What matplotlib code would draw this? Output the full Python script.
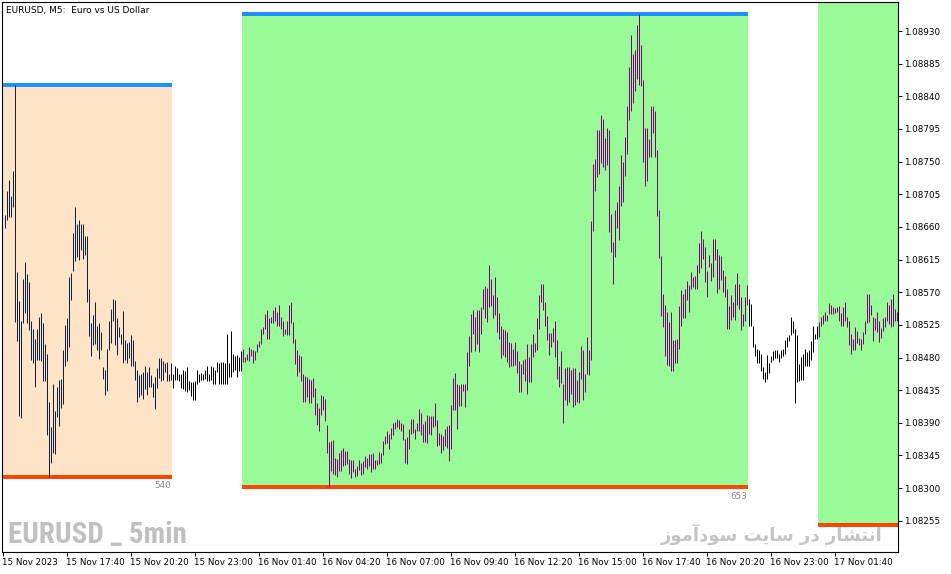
import matplotlib
matplotlib.use("Agg")
import matplotlib.pyplot as plt
from matplotlib import font_manager
from matplotlib.patches import Rectangle
import pandas as pd

# EURUSD M5 bars, 15 Nov 2023 15:05 onwards
chart_title = "EURUSD, M5:  Euro vs US Dollar"
first_bar = "2023-11-15 15:05"

high = [
    1.08677, 1.08710, 1.08724, 1.08702, 1.08737, 1.08855, 1.08598, 1.08558, 1.08531, 1.08588,
    1.08611, 1.08595, 1.08584, 1.08531, 1.08520, 1.08506, 1.08519, 1.08536, 1.08541, 1.08527,
    1.08498, 1.08485, 1.08419, 1.08384, 1.08443, 1.08407, 1.08440, 1.08449, 1.08450, 1.08491,
    1.08525, 1.08535, 1.08591, 1.08597, 1.08651, 1.08687, 1.08664, 1.08670, 1.08664, 1.08664,
    1.08648, 1.08648, 1.08574, 1.08527, 1.08538, 1.08556, 1.08524, 1.08527, 1.08515, 1.08467,
    1.08463, 1.08492, 1.08531, 1.08547, 1.08561, 1.08559, 1.08534, 1.08522, 1.08512, 1.08544,
    1.08504, 1.08500, 1.08501, 1.08511, 1.08504, 1.08475, 1.08463, 1.08456, 1.08457, 1.08460,
    1.08468, 1.08460, 1.08467, 1.08456, 1.08445, 1.08453, 1.08465, 1.08480, 1.08479, 1.08475,
    1.08472, 1.08474, 1.08458, 1.08472,
    1.08458, 1.08469, 1.08465, 1.08457, 1.08457, 1.08463, 1.08462, 1.08467, 1.08448, 1.08446,
    1.08446, 1.08448, 1.08463, 1.08457, 1.08459, 1.08457, 1.08463, 1.08468, 1.08458, 1.08468,
    1.08467, 1.08463, 1.08474, 1.08473, 1.08474, 1.08474, 1.08472, 1.08512, 1.08472, 1.08516,
    1.08485, 1.08482, 1.08483, 1.08481, 1.08489,
    1.08492, 1.08481, 1.08485, 1.08494, 1.08492, 1.08490, 1.08489, 1.08499, 1.08503, 1.08520,
    1.08522, 1.08540, 1.08545, 1.08534, 1.08536, 1.08546, 1.08550, 1.08543, 1.08553, 1.08536,
    1.08531, 1.08520, 1.08531, 1.08552, 1.08556, 1.08529, 1.08505, 1.08490, 1.08483, 1.08482,
    1.08458, 1.08454, 1.08453, 1.08450, 1.08449, 1.08452, 1.08438, 1.08418, 1.08410, 1.08429,
    1.08427, 1.08423, 1.08387, 1.08363, 1.08365, 1.08367, 1.08342, 1.08340, 1.08349, 1.08353,
    1.08356, 1.08351, 1.08351, 1.08340, 1.08339, 1.08339, 1.08327, 1.08331, 1.08339, 1.08335,
    1.08338, 1.08344, 1.08342, 1.08347, 1.08347, 1.08348, 1.08339, 1.08339, 1.08350, 1.08349,
    1.08365, 1.08372, 1.08379, 1.08374, 1.08383, 1.08390, 1.08391, 1.08395, 1.08394, 1.08390,
    1.08389, 1.08368, 1.08370, 1.08381, 1.08395, 1.08395, 1.08381, 1.08390, 1.08409, 1.08404,
    1.08389, 1.08392, 1.08401, 1.08399, 1.08399, 1.08399, 1.08417, 1.08394, 1.08376, 1.08375,
    1.08372, 1.08382, 1.08386, 1.08387, 1.08415, 1.08452, 1.08459, 1.08443, 1.08442, 1.08443,
    1.08443, 1.08444, 1.08487, 1.08509, 1.08540, 1.08545, 1.08536, 1.08545, 1.08546, 1.08550,
    1.08574, 1.08578, 1.08576, 1.08607, 1.08588, 1.08566, 1.08591, 1.08564, 1.08542, 1.08523,
    1.08520, 1.08518, 1.08515, 1.08502, 1.08500, 1.08492, 1.08502, 1.08489, 1.08475, 1.08471,
    1.08476, 1.08478, 1.08498, 1.08481, 1.08499, 1.08512, 1.08500, 1.08534, 1.08566, 1.08582,
    1.08582, 1.08557, 1.08537, 1.08514, 1.08514, 1.08521, 1.08531, 1.08504, 1.08469, 1.08489,
    1.08444, 1.08465, 1.08467, 1.08467, 1.08463, 1.08465, 1.08466, 1.08449, 1.08460, 1.08496,
    1.08491, 1.08458, 1.08508, 1.08490, 1.08668, 1.08747, 1.08754, 1.08794, 1.08794, 1.08814,
    1.08809, 1.08782, 1.08797, 1.08793, 1.08678, 1.08639, 1.08683, 1.08694, 1.08716, 1.08759,
    1.08750, 1.08784, 1.08827, 1.08880, 1.08924, 1.08899, 1.08904, 1.08938, 1.08954, 1.08911,
    1.08863, 1.08797, 1.08797, 1.08781, 1.08826, 1.08827, 1.08820, 1.08766, 1.08684, 1.08620,
    1.08568, 1.08553, 1.08543, 1.08529, 1.08543, 1.08504, 1.08504, 1.08505, 1.08551, 1.08573,
    1.08568, 1.08574, 1.08586, 1.08580, 1.08598, 1.08591, 1.08592, 1.08607, 1.08638, 1.08654,
    1.08644, 1.08633, 1.08599, 1.08622, 1.08610, 1.08644, 1.08643, 1.08630, 1.08622, 1.08620,
    1.08601, 1.08593, 1.08575, 1.08551, 1.08566, 1.08557, 1.08581, 1.08597, 1.08581, 1.08564,
    1.08540, 1.08564, 1.08580,
    1.08560, 1.08554, 1.08524, 1.08498, 1.08492, 1.08491, 1.08485, 1.08467, 1.08460, 1.08483,
    1.08472, 1.08482, 1.08489, 1.08490, 1.08491, 1.08485, 1.08490, 1.08492, 1.08504, 1.08508,
    1.08511, 1.08536, 1.08531, 1.08520, 1.08511, 1.08471, 1.08481, 1.08485, 1.08492, 1.08488,
    1.08490, 1.08503, 1.08524, 1.08512, 1.08523,
    1.08529, 1.08536, 1.08539, 1.08543, 1.08538, 1.08555, 1.08552, 1.08550, 1.08548, 1.08550,
    1.08551, 1.08541, 1.08550, 1.08557, 1.08536, 1.08530, 1.08512, 1.08506, 1.08522, 1.08517,
    1.08507, 1.08506, 1.08515, 1.08531, 1.08568, 1.08568, 1.08552, 1.08536, 1.08534, 1.08543,
    1.08531, 1.08521, 1.08534, 1.08536, 1.08557, 1.08553, 1.08561, 1.08567, 1.08547, 1.08543,
]

low = [
    1.08658, 1.08669, 1.08674, 1.08674, 1.08687, 1.08529, 1.08503, 1.08400, 1.08397, 1.08528,
    1.08541, 1.08527, 1.08518, 1.08476, 1.08473, 1.08440, 1.08477, 1.08476, 1.08475, 1.08448,
    1.08448, 1.08373, 1.08315, 1.08335, 1.08348, 1.08347, 1.08398, 1.08386, 1.08411, 1.08416,
    1.08468, 1.08475, 1.08495, 1.08559, 1.08599, 1.08613, 1.08619, 1.08614, 1.08628, 1.08616,
    1.08621, 1.08557, 1.08510, 1.08482, 1.08497, 1.08498, 1.08490, 1.08478, 1.08490, 1.08451,
    1.08429, 1.08434, 1.08490, 1.08500, 1.08531, 1.08497, 1.08484, 1.08508, 1.08499, 1.08473,
    1.08477, 1.08472, 1.08479, 1.08469, 1.08468, 1.08449, 1.08419, 1.08426, 1.08429, 1.08423,
    1.08436, 1.08429, 1.08440, 1.08439, 1.08425, 1.08409, 1.08438, 1.08452, 1.08448, 1.08449,
    1.08460, 1.08447, 1.08448, 1.08449,
    1.08438, 1.08449, 1.08449, 1.08448, 1.08438, 1.08436, 1.08434, 1.08432, 1.08435, 1.08427,
    1.08422, 1.08422, 1.08444, 1.08446, 1.08449, 1.08449, 1.08450, 1.08448, 1.08448, 1.08449,
    1.08444, 1.08444, 1.08460, 1.08444, 1.08443, 1.08444, 1.08443, 1.08444, 1.08453, 1.08453,
    1.08460, 1.08463, 1.08453, 1.08461, 1.08461,
    1.08474, 1.08474, 1.08476, 1.08475, 1.08482, 1.08473, 1.08476, 1.08488, 1.08495, 1.08499,
    1.08512, 1.08519, 1.08505, 1.08506, 1.08528, 1.08528, 1.08530, 1.08524, 1.08523, 1.08519,
    1.08509, 1.08513, 1.08511, 1.08511, 1.08527, 1.08500, 1.08471, 1.08454, 1.08460, 1.08448,
    1.08419, 1.08419, 1.08426, 1.08417, 1.08417, 1.08426, 1.08401, 1.08387, 1.08379, 1.08401,
    1.08408, 1.08393, 1.08349, 1.08301, 1.08323, 1.08319, 1.08318, 1.08316, 1.08324, 1.08323,
    1.08330, 1.08332, 1.08333, 1.08319, 1.08314, 1.08322, 1.08315, 1.08317, 1.08325, 1.08318,
    1.08320, 1.08329, 1.08327, 1.08331, 1.08322, 1.08326, 1.08326, 1.08332, 1.08333, 1.08335,
    1.08346, 1.08361, 1.08362, 1.08354, 1.08368, 1.08373, 1.08381, 1.08384, 1.08382, 1.08379,
    1.08367, 1.08335, 1.08333, 1.08354, 1.08374, 1.08376, 1.08368, 1.08379, 1.08379, 1.08373,
    1.08364, 1.08363, 1.08362, 1.08374, 1.08373, 1.08384, 1.08386, 1.08358, 1.08359, 1.08349,
    1.08352, 1.08358, 1.08355, 1.08337, 1.08354, 1.08408, 1.08408, 1.08381, 1.08413, 1.08413,
    1.08434, 1.08412, 1.08435, 1.08469, 1.08488, 1.08512, 1.08489, 1.08498, 1.08488, 1.08512,
    1.08547, 1.08535, 1.08529, 1.08550, 1.08551, 1.08534, 1.08538, 1.08515, 1.08506, 1.08479,
    1.08483, 1.08481, 1.08474, 1.08467, 1.08469, 1.08469, 1.08470, 1.08459, 1.08432, 1.08433,
    1.08458, 1.08448, 1.08430, 1.08446, 1.08446, 1.08481, 1.08488, 1.08490, 1.08520, 1.08557,
    1.08546, 1.08524, 1.08504, 1.08484, 1.08495, 1.08502, 1.08481, 1.08450, 1.08440, 1.08445,
    1.08390, 1.08421, 1.08414, 1.08419, 1.08430, 1.08412, 1.08414, 1.08419, 1.08417, 1.08451,
    1.08421, 1.08433, 1.08457, 1.08456, 1.08476, 1.08655, 1.08710, 1.08729, 1.08733, 1.08748,
    1.08743, 1.08739, 1.08746, 1.08653, 1.08626, 1.08581, 1.08619, 1.08659, 1.08642, 1.08689,
    1.08694, 1.08730, 1.08761, 1.08808, 1.08820, 1.08831, 1.08848, 1.08864, 1.08855, 1.08854,
    1.08749, 1.08716, 1.08723, 1.08757, 1.08756, 1.08789, 1.08757, 1.08675, 1.08617, 1.08537,
    1.08522, 1.08482, 1.08470, 1.08469, 1.08462, 1.08462, 1.08473, 1.08473, 1.08492, 1.08524,
    1.08534, 1.08535, 1.08559, 1.08543, 1.08574, 1.08577, 1.08574, 1.08575, 1.08596, 1.08603,
    1.08616, 1.08584, 1.08564, 1.08605, 1.08586, 1.08591, 1.08614, 1.08569, 1.08575, 1.08587,
    1.08570, 1.08564, 1.08520, 1.08519, 1.08532, 1.08536, 1.08532, 1.08553, 1.08547, 1.08518,
    1.08524, 1.08530, 1.08553,
    1.08524, 1.08524, 1.08495, 1.08482, 1.08473, 1.08473, 1.08462, 1.08451, 1.08446, 1.08451,
    1.08459, 1.08474, 1.08476, 1.08479, 1.08480, 1.08474, 1.08480, 1.08482, 1.08485, 1.08495,
    1.08503, 1.08511, 1.08514, 1.08417, 1.08446, 1.08447, 1.08449, 1.08449, 1.08468, 1.08468,
    1.08469, 1.08476, 1.08488, 1.08505, 1.08506,
    1.08508, 1.08523, 1.08526, 1.08530, 1.08530, 1.08540, 1.08540, 1.08540, 1.08542, 1.08543,
    1.08531, 1.08524, 1.08524, 1.08530, 1.08522, 1.08497, 1.08485, 1.08490, 1.08491, 1.08500,
    1.08497, 1.08490, 1.08498, 1.08512, 1.08528, 1.08529, 1.08538, 1.08503, 1.08518, 1.08515,
    1.08502, 1.08507, 1.08517, 1.08522, 1.08530, 1.08526, 1.08522, 1.08523, 1.08531, 1.08530,
]

# session boxes
sess_start = ["2023-11-15 15:00", "2023-11-16 01:00", "2023-11-17 01:00"]
sess_end = ["2023-11-15 22:00", "2023-11-16 22:00", "2023-11-17 22:00"]
box_top = [1.08855, 1.08954, 1.09050]
box_bottom = [1.08315, 1.08301, 1.08249]
box_fill = ["#FDE4C6", "#98FB98", "#98FB98"]
box_bars = ["#0D2246", "#800080", "#800080"]

price_ticks = [1.08255, 1.08300, 1.08345, 1.08390, 1.08435, 1.08480, 1.08525, 1.08570,
               1.08615, 1.08660, 1.08705, 1.08750, 1.08795, 1.08840, 1.08885, 1.08930]
time_labels = ["15 Nov 2023", "15 Nov 17:40", "15 Nov 20:20", "15 Nov 23:00",
               "16 Nov 01:40", "16 Nov 04:20", "16 Nov 07:00", "16 Nov 09:40",
               "16 Nov 12:20", "16 Nov 15:00", "16 Nov 17:40", "16 Nov 20:20",
               "16 Nov 23:00", "17 Nov 01:40"]

step = pd.Timedelta("5min")
t0 = pd.Timestamp("2023-11-15 15:00")
times = pd.date_range(first_bar, periods=len(high), freq="5min")
pos = ((times - t0) / step).to_numpy()

W, H = 951, 574
fig = plt.figure(figsize=(W / 100, H / 100), dpi=100)
ax = fig.add_axes([2 / W, 22 / H, 896 / W, 550 / H])
# quarter-bar shift puts every bar on a pixel centre
ax.set_xlim(-0.25, 447.75)
ax.set_ylim(1.08212, 1.08970)

# colour of each bar: inside a session box or not
colors = []
for t in times:
    c = "black"
    for s, e, bc in zip(sess_start, sess_end, box_bars):
        if pd.Timestamp(s) <= t <= pd.Timestamp(e):
            c = bc
    colors.append(c)

for s, e, top, bot, fc in zip(sess_start, sess_end, box_top, box_bottom, box_fill):
    x0 = (pd.Timestamp(s) - t0) / step - 0.3
    x1 = min((pd.Timestamp(e) - t0) / step + 0.5, 449)
    ax.add_patch(Rectangle((x0, bot), x1 - x0, top - bot, facecolor=fc,
                           edgecolor="none", zorder=1))
    ax.hlines(bot, x0, x1, color="#FF4500", lw=1.5, zorder=2, antialiased=False)
    if top < 1.08970:
        ax.hlines(top, x0, x1, color="#1E90FF", lw=1.5, zorder=2, antialiased=False)
        ax.annotate(str(round((top - bot) * 1e5)), xy=(x1, bot), xytext=(-0.5, -3),
                    textcoords="offset points", ha="right", va="top",
                    fontsize=6.3, color="#8a7f99")

# 1 px wide bars, centred on pixel columns
ax.vlines(pos, low, high, colors=colors, linewidth=0.72, zorder=3)

# axes / ticks
ax.yaxis.tick_right()
ax.set_yticks(price_ticks)
ax.set_yticklabels([f"{v:.5f}" for v in price_ticks])
ax.set_xticks([32 * k for k in range(len(time_labels))])
ax.set_xticklabels(time_labels, ha="left")
ax.tick_params(axis="both", direction="out", length=3, width=0.7, labelsize=6.3,
               colors="black", pad=1.5)
for sp in ax.spines.values():
    sp.set_linewidth(0.8)
    sp.set_color("black")

fig.text(6 / W, 1 - 10 / H, chart_title, ha="left", va="center", fontsize=6.5)

# condensed bold face for the watermark, if one is installed
wm_font, wm_stretch, wm_size = "DejaVu Sans", "normal", 15
for f in font_manager.fontManager.ttflist:
    if f.name in ("Liberation Sans Narrow", "Roboto Condensed", "Open Sans Condensed"):
        wm_font, wm_stretch, wm_size = f.name, "normal", 21
        break
    if f.name == "DejaVu Sans" and f.stretch == "condensed" and wm_size == 15:
        wm_stretch, wm_size = "condensed", 18
fig.text(8 / W, 1 - 543 / H, "EURUSD _ 5min", family=wm_font, fontweight="bold",
         fontstretch=wm_stretch, fontsize=wm_size, color="#c0c0c0",
         ha="left", va="baseline", zorder=5)

# Persian watermark, pre-shaped (presentation forms, visual order)
persian = "\uFEAF\uFEEE\uFEE3\uFE81\uFEA9\uFEEE\uFEB3 \uFE96\uFEF3\uFE8E\uFEB3 \uFEAD\uFEA9 \uFEAD\uFE8E\uFEB8\uFE98\uFEE7\uFE8D"
fig.text(882 / W, 1 - 541 / H, persian, family="DejaVu Sans", fontweight="bold",
         fontsize=13, color="#c4c4c4", ha="right", va="baseline", zorder=5)

fig.savefig("out.png", dpi=100)
